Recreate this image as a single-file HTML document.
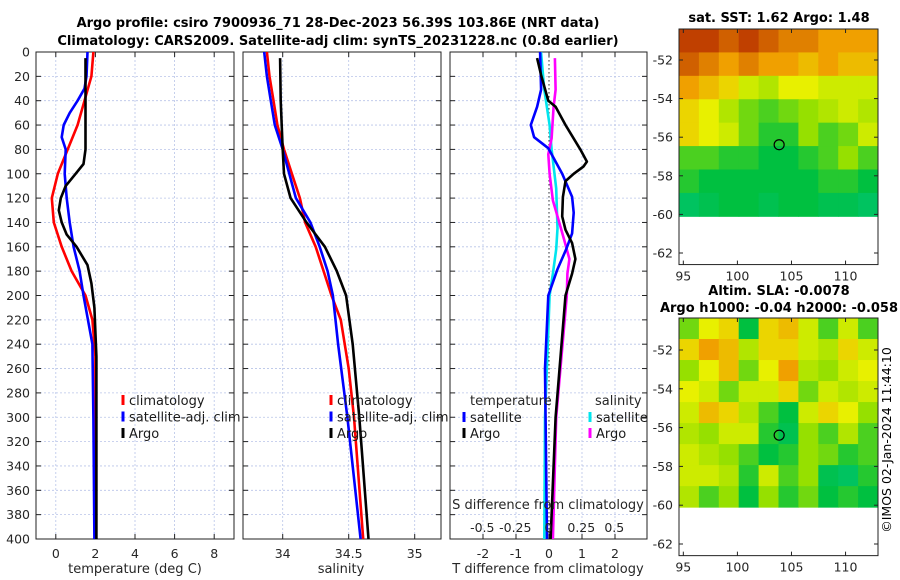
<!DOCTYPE html>
<html><head><meta charset="utf-8">
<style>
html,body{margin:0;padding:0;background:#fff;}
svg{display:block;font-family:"DejaVu Sans","Liberation Sans",sans-serif;}
</style></head>
<body>
<svg id="c" width="900" height="580" viewBox="0 0 900 580">
<text x="338" y="27" text-anchor="middle" font-size="13" font-weight="bold">Argo profile: csiro 7900936_71 28-Dec-2023 56.39S 103.86E (NRT data)</text>
<text x="338" y="45" text-anchor="middle" font-size="13" font-weight="bold">Climatology: CARS2009. Satellite-adj clim: synTS_20231228.nc (0.8d earlier)</text>
<text x="779" y="22" text-anchor="middle" font-size="13" font-weight="bold">sat. SST: 1.62 Argo: 1.48</text>
<text x="779" y="295" text-anchor="middle" font-size="13" font-weight="bold">Altim. SLA: -0.0078</text>
<text x="779" y="312" text-anchor="middle" font-size="13" font-weight="bold">Argo h1000: -0.04 h2000: -0.058</text>
<text transform="translate(891,440) rotate(-90)" text-anchor="middle" font-size="12.5">©IMOS 02-Jan-2024 11:44:10</text>
</svg>
<script>
// ---- data ----
const depthTicks=[0,20,40,60,80,100,120,140,160,180,200,220,240,260,280,300,320,340,360,380,400];
const tempTicks=[0,2,4,6,8];
const salTicks=[34,34.5,35];
const salTickLabels=["34","34.5","35"];
const tdTicks=[-2,-1,0,1,2];
const sdTicks=[-0.5,-0.25,0,0.25,0.5];
const sdTickLabels=["-0.5","-0.25","0","0.25","0.5"];

const climTDepth=[0,20,40,60,80,100,120,140,160,180,200,220,250,300,400];
const climTVal=[1.9,1.8,1.45,1.1,0.6,0.1,-0.2,-0.1,0.3,0.8,1.5,1.85,2.0,2.0,2.0];
const satTDepth=[0,20,30,40,50,60,70,80,100,120,140,160,180,200,240,300,400];
const satTVal=[1.6,1.55,1.45,1.1,0.7,0.4,0.3,0.5,0.45,0.55,0.7,0.9,1.2,1.4,1.85,1.9,1.95];
const argoTDepth=[5,40,80,92,100,110,120,130,140,150,160,175,190,210,250,400];
const argoTVal=[1.5,1.5,1.5,1.4,1.0,0.5,0.25,0.15,0.3,0.55,1.05,1.6,1.8,1.95,2.05,2.05];

const climSDepth=[0,20,40,60,80,100,120,140,160,180,200,220,260,300,400];
const climSVal=[33.88,33.90,33.93,33.96,34.01,34.07,34.13,34.17,34.25,34.31,34.37,34.44,34.50,34.54,34.61];
const satSDepth=[0,20,40,60,80,100,120,140,160,180,200,240,300,400];
const satSVal=[33.86,33.88,33.91,33.94,34.0,34.05,34.10,34.21,34.28,34.34,34.38,34.42,34.49,34.59];
const argoSDepth=[5,40,80,100,120,140,160,180,200,240,300,400];
const argoSVal=[33.98,33.985,34.0,34.01,34.06,34.18,34.32,34.41,34.48,34.53,34.58,34.65];

const satTdDepth=[0,31,45,60,70,79,100,119,132,149,162,179,200,260,400];
const satTdVal=[-0.27,-0.24,-0.36,-0.55,-0.45,-0.02,0.4,0.7,0.75,0.7,0.52,0.25,-0.02,-0.12,-0.06];
const argoTdDepth=[5,19,40,45,60,80,90,94,100,106,119,135,146,157,170,182,200,300,400];
const argoTdVal=[-0.36,-0.24,-0.02,0.2,0.5,0.95,1.15,1.05,0.75,0.5,0.42,0.4,0.5,0.7,0.8,0.7,0.5,0.2,0.05];
const satSdDepth=[0,31,60,80,112,145,162,182,200,300,400];
const satSdVal=[-0.055,-0.03,0.01,0.025,0.06,0.07,0.06,0.035,0.01,-0.025,-0.03];
const argoSdDepth=[5,31,45,71,84,100,122,135,154,170,182,200,300,400];
const argoSdVal=[0.05,0.055,0.04,0.025,0.0,0.01,0.035,0.07,0.12,0.16,0.145,0.14,0.06,0.035];

const lonTicks=[95,100,105,110];
const latTicks=[-52,-54,-56,-58,-60,-62];
const argoLon=103.86, argoLat=-56.39;
const sstGrid=[
[0.95,0.95,0.9,0.95,0.9,0.85,0.85,0.8,0.8,0.8],
[0.9,0.85,0.8,0.85,0.8,0.8,0.75,0.8,0.75,0.75],
[0.8,0.75,0.7,0.6,0.55,0.65,0.65,0.6,0.6,0.6],
[0.7,0.65,0.55,0.45,0.4,0.45,0.5,0.55,0.6,0.55],
[0.7,0.65,0.6,0.45,0.35,0.35,0.5,0.4,0.45,0.6],
[0.4,0.4,0.35,0.35,0.3,0.3,0.35,0.4,0.5,0.4],
[0.35,0.3,0.3,0.3,0.3,0.3,0.3,0.35,0.35,0.3],
[0.2,0.25,0.3,0.3,0.25,0.3,0.3,0.25,0.25,0.2]];
const slaGrid=[
[0.45,0.65,0.7,0.3,0.7,0.75,0.6,0.4,0.6,0.4],
[0.7,0.8,0.75,0.55,0.7,0.7,0.6,0.55,0.7,0.6],
[0.5,0.65,0.75,0.45,0.65,0.8,0.55,0.5,0.6,0.65],
[0.65,0.6,0.45,0.6,0.6,0.7,0.45,0.6,0.55,0.6],
[0.6,0.75,0.7,0.55,0.4,0.3,0.6,0.7,0.65,0.5],
[0.55,0.5,0.6,0.6,0.35,0.25,0.5,0.4,0.55,0.4],
[0.6,0.55,0.5,0.4,0.3,0.35,0.5,0.45,0.35,0.4],
[0.6,0.6,0.55,0.35,0.6,0.4,0.5,0.25,0.2,0.35],
[0.55,0.4,0.5,0.3,0.5,0.35,0.45,0.3,0.35,0.3]];

// ---- drawing ----
const NS="http://www.w3.org/2000/svg";
const svg=document.getElementById('c');
function el(tag,attrs,parent){const e=document.createElementNS(NS,tag);for(const k in attrs)e.setAttribute(k,attrs[k]);(parent||svg).appendChild(e);return e;}
function txt(x,y,s,attrs,parent){const t=el('text',Object.assign({x:x,y:y,'font-size':'12.5',fill:'#262626'},attrs||{}),parent);t.textContent=s;return t;}

const TOP=52,BOT=539;
const yD=d=>TOP+(BOT-TOP)*d/400;
const panels=[
 {x0:36,x1:234,lo:-1,hi:9,name:'temperature'},
 {x0:243,x1:441,lo:34-39.7/132,hi:34+158.3/132,name:'salinity'},
 {x0:450,x1:647,lo:-3.0,hi:2.97,name:'t-difference'}];
function sx(p,v){return p.x0+(v-p.lo)/(p.hi-p.lo)*(p.x1-p.x0);}
const sdX=v=>548.3+v*132;

panels.forEach((p,i)=>{
  const g=el('g',{});
  
  
  const ticksX = i==0?tempTicks:(i==1?salTicks:tdTicks);
  ticksX.forEach(t=>{const x=sx(p,t);el('line',{x1:x,x2:x,y1:TOP,y2:BOT,stroke:'#b8c4e8','stroke-dasharray':'2,2','stroke-width':0.8},g);
    el('line',{x1:x,x2:x,y1:BOT,y2:BOT-5,stroke:'#222'},g);el('line',{x1:x,x2:x,y1:TOP,y2:TOP+5,stroke:'#222'},g);});
  depthTicks.forEach(d=>{const y=yD(d);el('line',{x1:p.x0,x2:p.x1,y1:y,y2:y,stroke:'#b8c4e8','stroke-dasharray':'2,2','stroke-width':0.8},g);
    el('line',{x1:p.x0,x2:p.x0+5,y1:y,y2:y,stroke:'#222'},g);el('line',{x1:p.x1,x2:p.x1-5,y1:y,y2:y,stroke:'#222'},g);});
  el('rect',{x:p.x0,y:TOP,width:p.x1-p.x0,height:BOT-TOP,fill:'none',stroke:'#222','stroke-width':1},g);
  const labs= i==0?tempTicks.map(String):(i==1?salTickLabels:tdTicks.map(String));
  ticksX.forEach((t,k)=>{const tt=txt(sx(p,t),558,labs[k],{'text-anchor':'middle'},g);});
});
depthTicks.forEach(d=>{const t=txt(30,yD(d)+4.5,String(d),{'text-anchor':'end'});

});
[["temperature (deg C)",135],["salinity",341],["T difference from climatology",548]].forEach(([s,x])=>{const t=txt(x,573,s,{'text-anchor':'middle','font-size':'13'});

});
const zl=el('line',{x1:sx(panels[2],0),x2:sx(panels[2],0),y1:TOP,y2:BOT,stroke:'#333','stroke-dasharray':'1.5,2.5','stroke-width':1});



function series(xs,ds,fx,color,name){
  const pts=xs.map((v,k)=>fx(v).toFixed(1)+','+yD(ds[k]).toFixed(1)).join(' ');
  const pl=el('polyline',{points:pts,fill:'none',stroke:color,'stroke-width':2.6,'stroke-linejoin':'round'});
  
  
}
series(climTVal,climTDepth,v=>sx(panels[0],v),'#ff0000','climatology-temp-line');
series(satTVal,satTDepth,v=>sx(panels[0],v),'#0000ff','satellite-temp-line');
series(argoTVal,argoTDepth,v=>sx(panels[0],v),'#000','argo-temp-line');
series(climSVal,climSDepth,v=>sx(panels[1],v),'#ff0000','climatology-salinity-line');
series(satSVal,satSDepth,v=>sx(panels[1],v),'#0000ff','satellite-salinity-line');
series(argoSVal,argoSDepth,v=>sx(panels[1],v),'#000','argo-salinity-line');
series(satSdVal,satSdDepth,sdX,'#00e5ee','satellite-sdiff-line');
series(argoSdVal,argoSdDepth,sdX,'#ff00ff','argo-sdiff-line');
series(satTdVal,satTdDepth,v=>sx(panels[2],v),'#0000ff','satellite-tdiff-line');
series(argoTdVal,argoTdDepth,v=>sx(panels[2],v),'#000','argo-tdiff-line');

const sdt=txt(548,509,'S difference from climatology',{'text-anchor':'middle','font-size':'13'});


sdTicks.forEach((v,k)=>{const t=txt(sdX(v),532,sdTickLabels[k],{'text-anchor':'middle'});

});

function legend(x,y,color,label,name){
  const g=el('g',{});
  
  
  el('rect',{x:x-1.5,y:y-6,width:3,height:10,fill:color},g);
  txt(x+6,y+4,label,{'font-size':'13','fill':'#1a1a1a'},g);
}
[['#ff0000','climatology'],['#0000ff','satellite-adj. clim'],['#000','Argo']].forEach(([c,l],k)=>{
  legend(123,401+k*16.5,c,l,'legend-entry');
  legend(331,401+k*16.5,c,l,'legend-entry');
});
const lt=txt(470,405,'temperature',{'font-size':'13'});


const ls=txt(595,405,'salinity',{'font-size':'13'});


legend(464,418,'#0000ff','satellite','legend-entry');
legend(464,434,'#000','Argo','legend-entry');
legend(590,418,'#00e5ee','satellite','legend-entry');
legend(590,434,'#ff00ff','Argo','legend-entry');

const stops=[[0,[0,200,160]],[0.3,[0,192,64]],[0.5,[150,224,0]],[0.65,[232,240,0]],[0.8,[240,160,0]],[1,[176,32,0]]];
function cmap(v){for(let i=1;i<stops.length;i++){if(v<=stops[i][0]){const a=stops[i-1],b=stops[i];const f=(v-a[0])/(b[0]-a[0]);
 const c=a[1].map((q,j)=>Math.round(q+(b[1][j]-q)*f));return 'rgb('+c.join(',')+')';}}return 'rgb(176,32,0)';}
function drawMap(mx0,mx1,myTop,y52,y62,grid,name){
  const g=el('g',{});
  
  
  const lonLo=94.6,lonHi=113;
  const lx=l=>mx0+(l-lonLo)/(lonHi-lonLo)*(mx1-mx0);
  const ly=la=>y52+(la+52)/(-10)*(y62-y52);
  const bot=ly(-62.6);
  const dataBot=ly(-60.1);
  const rows=grid.length,cols=grid[0].length;
  const cw=(mx1-mx0)/cols,ch=(dataBot-myTop)/rows;
  grid.forEach((r,i)=>r.forEach((v,j)=>{const c=el('rect',{x:mx0+j*cw,y:myTop+i*ch,width:cw+0.5,height:ch+0.5,fill:cmap(v)},g);
    
    }));
  el('rect',{x:mx0,y:myTop,width:mx1-mx0,height:bot-myTop,fill:'none',stroke:'#222'},g);
  lonTicks.forEach(l=>{const x=lx(l);el('line',{x1:x,x2:x,y1:bot,y2:bot-4,stroke:'#222'},g);el('line',{x1:x,x2:x,y1:myTop,y2:myTop+4,stroke:'#222'},g);
    txt(x,bot+16,String(l),{'text-anchor':'middle'},g);});
  latTicks.forEach(la=>{const y=ly(la);el('line',{x1:mx0,x2:mx0+4,y1:y,y2:y,stroke:'#222'},g);el('line',{x1:mx1,x2:mx1-4,y1:y,y2:y,stroke:'#222'},g);
    txt(mx0-6,y+4.5,String(la),{'text-anchor':'end'},g);});
  const m=el('circle',{cx:lx(argoLon),cy:ly(argoLat),r:5,fill:'none',stroke:'#000','stroke-width':1.2},g);
  
  
}
drawMap(679,878,29,60,253,sstGrid,'sst-map');
drawMap(679,878,318,350,544,slaGrid,'sla-map');
</script>
</body></html>
